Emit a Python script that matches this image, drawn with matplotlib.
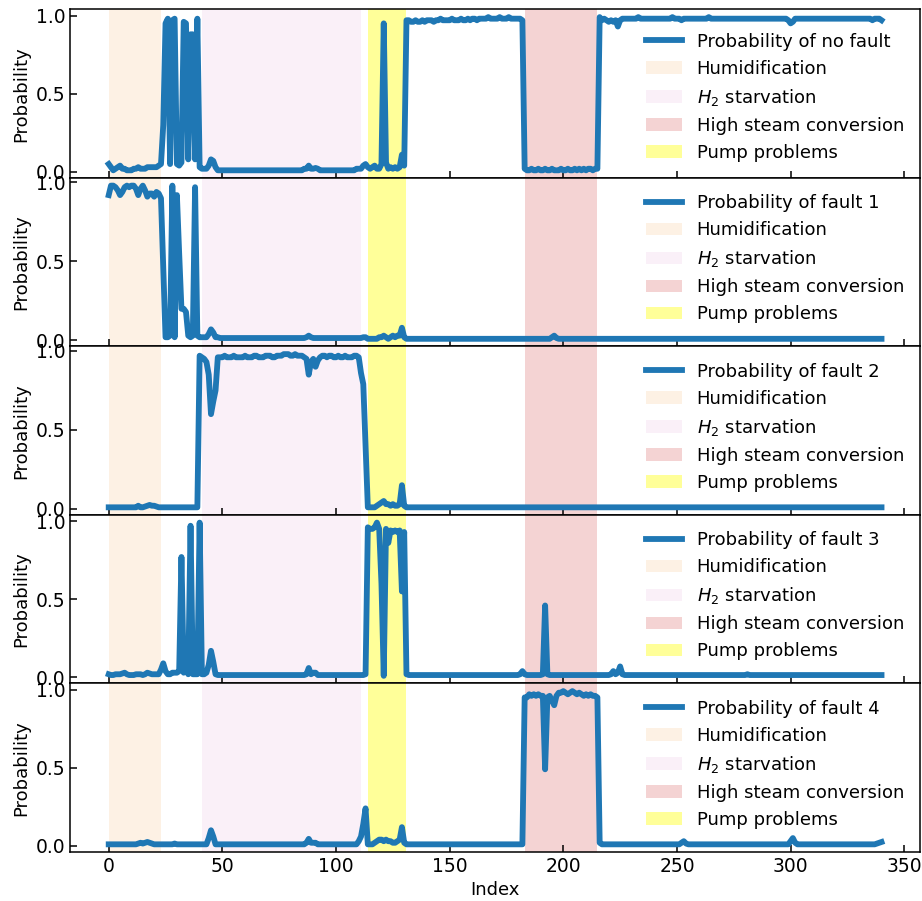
import matplotlib
matplotlib.use("Agg")
import matplotlib.pyplot as plt
import numpy as np

# ---------------- data ----------------
series_labels = ["Probability of no fault", "Probability of fault 1",
                 "Probability of fault 2", "Probability of fault 3",
                 "Probability of fault 4"]

p_no_fault = [
    0.05, 0.03, 0.01, 0.02, 0.03, 0.04, 0.02, 0.02, 0.01, 0.01,
    0.01, 0.02, 0.02, 0.03, 0.02, 0.02, 0.02, 0.03, 0.03, 0.03,
    0.03, 0.03, 0.04, 0.05, 0.30, 0.95, 0.98, 0.05, 0.97, 0.98,
    0.05, 0.04, 0.06, 0.96, 0.95, 0.08, 0.88, 0.88, 0.08, 0.98,
    0.03, 0.02, 0.02, 0.02, 0.04, 0.08, 0.07, 0.03, 0.01, 0.01,
    0.01, 0.01, 0.01, 0.01, 0.01, 0.01, 0.01, 0.01, 0.01, 0.01,
    0.01, 0.01, 0.01, 0.01, 0.01, 0.01, 0.01, 0.01, 0.01, 0.01,
    0.01, 0.01, 0.01, 0.01, 0.01, 0.01, 0.01, 0.01, 0.01, 0.01,
    0.01, 0.01, 0.01, 0.01, 0.01, 0.01, 0.02, 0.02, 0.04, 0.02,
    0.02, 0.025, 0.02, 0.01, 0.01, 0.01, 0.01, 0.01, 0.01, 0.01,
    0.01, 0.01, 0.01, 0.01, 0.01, 0.01, 0.01, 0.01, 0.01, 0.02,
    0.02, 0.02, 0.04, 0.05, 0.03, 0.02, 0.03, 0.04, 0.02, 0.02,
    0.05, 0.95, 0.06, 0.02, 0.03, 0.02, 0.03, 0.02, 0.03, 0.11,
    0.04, 0.97, 0.97, 0.96, 0.96, 0.97, 0.96, 0.96, 0.97, 0.96,
    0.97, 0.97, 0.97, 0.96, 0.97, 0.97, 0.98, 0.97, 0.97, 0.97,
    0.97, 0.98, 0.97, 0.97, 0.97, 0.98, 0.97, 0.97, 0.98, 0.97,
    0.98, 0.98, 0.97, 0.98, 0.98, 0.98, 0.98, 0.99, 0.98, 0.98,
    0.98, 0.98, 0.99, 0.98, 0.98, 0.98, 0.99, 0.98, 0.98, 0.98,
    0.98, 0.98, 0.97, 0.02, 0.01, 0.01, 0.02, 0.01, 0.01, 0.02,
    0.01, 0.01, 0.02, 0.01, 0.01, 0.02, 0.01, 0.01, 0.01, 0.02,
    0.01, 0.01, 0.02, 0.01, 0.01, 0.02, 0.01, 0.02, 0.01, 0.02,
    0.01, 0.02, 0.02, 0.01, 0.02, 0.02, 0.99, 0.97, 0.98, 0.97,
    0.96, 0.97, 0.96, 0.97, 0.93, 0.97, 0.98, 0.98, 0.98, 0.98,
    0.98, 0.98, 0.98, 0.99, 0.98, 0.98, 0.98, 0.98, 0.98, 0.98,
    0.98, 0.98, 0.98, 0.98, 0.98, 0.98, 0.98, 0.98, 0.99, 0.98,
    0.98, 0.98, 0.97, 0.98, 0.98, 0.98, 0.98, 0.98, 0.98, 0.98,
    0.98, 0.98, 0.98, 0.98, 0.99, 0.98, 0.98, 0.98, 0.98, 0.98,
    0.98, 0.98, 0.98, 0.98, 0.98, 0.98, 0.98, 0.98, 0.98, 0.98,
    0.98, 0.98, 0.98, 0.98, 0.98, 0.98, 0.98, 0.98, 0.98, 0.98,
    0.98, 0.98, 0.98, 0.98, 0.98, 0.98, 0.98, 0.98, 0.98, 0.97,
    0.95, 0.96, 0.98, 0.98, 0.98, 0.98, 0.98, 0.98, 0.98, 0.98,
    0.98, 0.98, 0.98, 0.98, 0.98, 0.98, 0.98, 0.98, 0.98, 0.98,
    0.98, 0.98, 0.98, 0.98, 0.98, 0.98, 0.98, 0.98, 0.98, 0.98,
    0.98, 0.98, 0.98, 0.98, 0.98, 0.98, 0.97, 0.98, 0.98, 0.98,
    0.97,
]

p_fault1 = [
    0.92, 0.98, 0.98, 0.97, 0.95, 0.92, 0.94, 0.97, 0.98, 0.97,
    0.98, 0.98, 0.96, 0.92, 0.96, 0.98, 0.95, 0.91, 0.93, 0.93,
    0.91, 0.94, 0.93, 0.90, 0.45, 0.02, 0.02, 0.03, 0.98, 0.02,
    0.92, 0.55, 0.20, 0.20, 0.18, 0.03, 0.02, 0.03, 0.97, 0.03,
    0.02, 0.02, 0.02, 0.02, 0.04, 0.07, 0.05, 0.02, 0.02, 0.015,
    0.015, 0.015, 0.015, 0.015, 0.015, 0.015, 0.015, 0.015, 0.015, 0.015,
    0.015, 0.015, 0.015, 0.015, 0.015, 0.015, 0.015, 0.015, 0.015, 0.015,
    0.015, 0.015, 0.015, 0.015, 0.015, 0.015, 0.015, 0.015, 0.015, 0.015,
    0.015, 0.015, 0.015, 0.015, 0.015, 0.015, 0.015, 0.02, 0.03, 0.02,
    0.015, 0.015, 0.015, 0.015, 0.015, 0.015, 0.015, 0.015, 0.015, 0.015,
    0.015, 0.015, 0.015, 0.015, 0.015, 0.015, 0.015, 0.015, 0.015, 0.015,
    0.015, 0.015, 0.02, 0.02, 0.01, 0.01, 0.01, 0.01, 0.01, 0.02,
    0.02, 0.03, 0.02, 0.01, 0.02, 0.03, 0.02, 0.03, 0.03, 0.08,
    0.02, 0.01, 0.01, 0.01, 0.01, 0.01, 0.01, 0.01, 0.01, 0.01,
    0.01, 0.01, 0.01, 0.01, 0.01, 0.01, 0.01, 0.01, 0.01, 0.01,
    0.01, 0.01, 0.01, 0.01, 0.01, 0.01, 0.01, 0.01, 0.01, 0.01,
    0.01, 0.01, 0.01, 0.01, 0.01, 0.01, 0.01, 0.01, 0.01, 0.01,
    0.01, 0.01, 0.01, 0.01, 0.01, 0.01, 0.01, 0.01, 0.01, 0.01,
    0.01, 0.01, 0.01, 0.01, 0.01, 0.01, 0.01, 0.01, 0.01, 0.01,
    0.01, 0.01, 0.01, 0.01, 0.01, 0.02, 0.03, 0.015, 0.01, 0.01,
    0.01, 0.01, 0.01, 0.01, 0.01, 0.01, 0.01, 0.01, 0.01, 0.01,
    0.01, 0.01, 0.01, 0.01, 0.01, 0.01, 0.01, 0.01, 0.01, 0.01,
    0.01, 0.01, 0.01, 0.01, 0.01, 0.01, 0.01, 0.01, 0.01, 0.01,
    0.01, 0.01, 0.01, 0.01, 0.01, 0.01, 0.01, 0.01, 0.01, 0.01,
    0.01, 0.01, 0.01, 0.01, 0.01, 0.01, 0.01, 0.01, 0.01, 0.01,
    0.01, 0.01, 0.01, 0.01, 0.01, 0.01, 0.01, 0.01, 0.01, 0.01,
    0.01, 0.01, 0.01, 0.01, 0.01, 0.01, 0.01, 0.01, 0.01, 0.01,
    0.01, 0.01, 0.01, 0.01, 0.01, 0.01, 0.01, 0.01, 0.01, 0.01,
    0.01, 0.01, 0.01, 0.01, 0.01, 0.01, 0.01, 0.01, 0.01, 0.01,
    0.01, 0.01, 0.01, 0.01, 0.01, 0.01, 0.01, 0.01, 0.01, 0.01,
    0.01, 0.01, 0.01, 0.01, 0.01, 0.01, 0.01, 0.01, 0.01, 0.01,
    0.01, 0.01, 0.01, 0.01, 0.01, 0.01, 0.01, 0.01, 0.01, 0.01,
    0.01, 0.01, 0.01, 0.01, 0.01, 0.01, 0.01, 0.01, 0.01, 0.01,
    0.01, 0.01, 0.01, 0.01, 0.01, 0.01, 0.01, 0.01, 0.01, 0.01,
    0.01,
]

p_fault2 = [
    0.01, 0.01, 0.01, 0.01, 0.01, 0.01, 0.01, 0.01, 0.01, 0.01,
    0.01, 0.01, 0.01, 0.02, 0.01, 0.01, 0.015, 0.02, 0.025, 0.02,
    0.02, 0.015, 0.01, 0.01, 0.01, 0.01, 0.01, 0.01, 0.01, 0.01,
    0.01, 0.01, 0.01, 0.01, 0.01, 0.01, 0.01, 0.01, 0.01, 0.01,
    0.97, 0.96, 0.95, 0.93, 0.85, 0.60, 0.68, 0.75, 0.96, 0.96,
    0.96, 0.97, 0.96, 0.96, 0.96, 0.97, 0.96, 0.96, 0.96, 0.96,
    0.97, 0.96, 0.96, 0.96, 0.97, 0.97, 0.96, 0.96, 0.96, 0.97,
    0.97, 0.97, 0.96, 0.96, 0.97, 0.97, 0.97, 0.98, 0.98, 0.98,
    0.97, 0.97, 0.98, 0.97, 0.97, 0.97, 0.96, 0.95, 0.85, 0.93,
    0.95, 0.90, 0.94, 0.96, 0.97, 0.97, 0.96, 0.97, 0.97, 0.96,
    0.96, 0.97, 0.96, 0.96, 0.97, 0.96, 0.96, 0.96, 0.97, 0.97,
    0.96, 0.86, 0.79, 0.40, 0.01, 0.01, 0.01, 0.01, 0.02, 0.03,
    0.04, 0.05, 0.03, 0.03, 0.02, 0.03, 0.02, 0.02, 0.03, 0.15,
    0.02, 0.01, 0.01, 0.01, 0.01, 0.01, 0.01, 0.01, 0.01, 0.01,
    0.01, 0.01, 0.01, 0.01, 0.01, 0.01, 0.01, 0.01, 0.01, 0.01,
    0.01, 0.01, 0.01, 0.01, 0.01, 0.01, 0.01, 0.01, 0.01, 0.01,
    0.01, 0.01, 0.01, 0.01, 0.01, 0.01, 0.01, 0.01, 0.01, 0.01,
    0.01, 0.01, 0.01, 0.01, 0.01, 0.01, 0.01, 0.01, 0.01, 0.01,
    0.01, 0.01, 0.01, 0.01, 0.01, 0.01, 0.01, 0.01, 0.01, 0.01,
    0.01, 0.01, 0.01, 0.01, 0.01, 0.01, 0.01, 0.01, 0.01, 0.01,
    0.01, 0.01, 0.01, 0.01, 0.01, 0.01, 0.01, 0.01, 0.01, 0.01,
    0.01, 0.01, 0.01, 0.01, 0.01, 0.01, 0.01, 0.01, 0.01, 0.01,
    0.01, 0.01, 0.01, 0.01, 0.01, 0.01, 0.01, 0.01, 0.01, 0.01,
    0.01, 0.01, 0.01, 0.01, 0.01, 0.01, 0.01, 0.01, 0.01, 0.01,
    0.01, 0.01, 0.01, 0.01, 0.01, 0.01, 0.01, 0.01, 0.01, 0.01,
    0.01, 0.01, 0.01, 0.01, 0.01, 0.01, 0.01, 0.01, 0.01, 0.01,
    0.01, 0.01, 0.01, 0.01, 0.01, 0.01, 0.01, 0.01, 0.01, 0.01,
    0.01, 0.01, 0.01, 0.01, 0.01, 0.01, 0.01, 0.01, 0.01, 0.01,
    0.01, 0.01, 0.01, 0.01, 0.01, 0.01, 0.01, 0.01, 0.01, 0.01,
    0.01, 0.01, 0.01, 0.01, 0.01, 0.01, 0.01, 0.01, 0.01, 0.01,
    0.01, 0.01, 0.01, 0.01, 0.01, 0.01, 0.01, 0.01, 0.01, 0.01,
    0.01, 0.01, 0.01, 0.01, 0.01, 0.01, 0.01, 0.01, 0.01, 0.01,
    0.01, 0.01, 0.01, 0.01, 0.01, 0.01, 0.01, 0.01, 0.01, 0.01,
    0.01, 0.01, 0.01, 0.01, 0.01, 0.01, 0.01, 0.01, 0.01, 0.01,
    0.01,
]

p_fault3 = [
    0.02, 0.015, 0.015, 0.02, 0.02, 0.02, 0.025, 0.03, 0.02, 0.015,
    0.015, 0.015, 0.02, 0.02, 0.02, 0.015, 0.02, 0.03, 0.025, 0.02,
    0.02, 0.02, 0.02, 0.05, 0.09, 0.04, 0.02, 0.02, 0.03, 0.03,
    0.03, 0.04, 0.77, 0.03, 0.06, 0.02, 0.97, 0.02, 0.02, 0.02,
    0.99, 0.02, 0.02, 0.03, 0.08, 0.17, 0.10, 0.02, 0.015, 0.015,
    0.015, 0.015, 0.015, 0.015, 0.015, 0.015, 0.015, 0.015, 0.015, 0.015,
    0.015, 0.015, 0.015, 0.015, 0.015, 0.015, 0.015, 0.015, 0.015, 0.015,
    0.015, 0.015, 0.015, 0.015, 0.015, 0.015, 0.015, 0.015, 0.015, 0.015,
    0.015, 0.015, 0.015, 0.015, 0.015, 0.015, 0.015, 0.02, 0.06, 0.02,
    0.03, 0.03, 0.015, 0.015, 0.015, 0.015, 0.015, 0.015, 0.015, 0.015,
    0.015, 0.015, 0.015, 0.015, 0.015, 0.015, 0.015, 0.015, 0.015, 0.015,
    0.015, 0.015, 0.015, 0.02, 0.96, 0.95, 0.95, 0.96, 0.99, 0.95,
    0.60, 0.01, 0.95, 0.86, 0.94, 0.93, 0.94, 0.93, 0.94, 0.55,
    0.93, 0.02, 0.015, 0.015, 0.015, 0.015, 0.015, 0.015, 0.015, 0.015,
    0.015, 0.015, 0.015, 0.015, 0.015, 0.015, 0.015, 0.015, 0.015, 0.015,
    0.015, 0.015, 0.015, 0.015, 0.015, 0.015, 0.015, 0.015, 0.015, 0.015,
    0.015, 0.015, 0.015, 0.015, 0.015, 0.015, 0.015, 0.015, 0.015, 0.015,
    0.015, 0.015, 0.015, 0.015, 0.015, 0.015, 0.015, 0.015, 0.015, 0.015,
    0.015, 0.02, 0.04, 0.02, 0.015, 0.015, 0.015, 0.015, 0.015, 0.015,
    0.015, 0.02, 0.46, 0.02, 0.015, 0.015, 0.015, 0.015, 0.015, 0.015,
    0.015, 0.015, 0.015, 0.015, 0.015, 0.015, 0.015, 0.015, 0.015, 0.015,
    0.015, 0.015, 0.015, 0.015, 0.015, 0.015, 0.015, 0.015, 0.015, 0.015,
    0.015, 0.02, 0.04, 0.02, 0.03, 0.07, 0.02, 0.015, 0.015, 0.015,
    0.015, 0.015, 0.015, 0.015, 0.015, 0.015, 0.015, 0.015, 0.015, 0.015,
    0.015, 0.015, 0.015, 0.015, 0.015, 0.015, 0.015, 0.015, 0.015, 0.015,
    0.015, 0.015, 0.015, 0.015, 0.015, 0.015, 0.015, 0.015, 0.015, 0.015,
    0.015, 0.015, 0.015, 0.015, 0.015, 0.015, 0.015, 0.015, 0.015, 0.015,
    0.015, 0.015, 0.015, 0.015, 0.015, 0.015, 0.015, 0.015, 0.015, 0.015,
    0.015, 0.02, 0.015, 0.015, 0.015, 0.015, 0.015, 0.015, 0.015, 0.015,
    0.015, 0.015, 0.015, 0.015, 0.015, 0.015, 0.015, 0.015, 0.015, 0.015,
    0.015, 0.015, 0.015, 0.015, 0.015, 0.015, 0.015, 0.015, 0.015, 0.015,
    0.015, 0.015, 0.015, 0.015, 0.015, 0.015, 0.015, 0.015, 0.015, 0.015,
    0.015, 0.015, 0.015, 0.015, 0.015, 0.015, 0.015, 0.015, 0.015, 0.015,
    0.015, 0.015, 0.015, 0.015, 0.015, 0.015, 0.015, 0.015, 0.015, 0.015,
    0.015,
]

p_fault4 = [
    0.01, 0.01, 0.01, 0.01, 0.01, 0.01, 0.01, 0.01, 0.01, 0.01,
    0.01, 0.01, 0.01, 0.015, 0.02, 0.015, 0.02, 0.025, 0.02, 0.015,
    0.01, 0.01, 0.01, 0.01, 0.01, 0.01, 0.01, 0.01, 0.01, 0.015,
    0.01, 0.01, 0.01, 0.01, 0.01, 0.01, 0.01, 0.01, 0.01, 0.01,
    0.01, 0.01, 0.01, 0.01, 0.05, 0.10, 0.06, 0.01, 0.01, 0.01,
    0.01, 0.01, 0.01, 0.01, 0.01, 0.01, 0.01, 0.01, 0.01, 0.01,
    0.01, 0.01, 0.01, 0.01, 0.01, 0.01, 0.01, 0.01, 0.01, 0.01,
    0.01, 0.01, 0.01, 0.01, 0.01, 0.01, 0.01, 0.01, 0.01, 0.01,
    0.01, 0.01, 0.01, 0.01, 0.01, 0.01, 0.01, 0.02, 0.045, 0.02,
    0.02, 0.02, 0.01, 0.01, 0.01, 0.01, 0.01, 0.01, 0.01, 0.01,
    0.01, 0.01, 0.01, 0.01, 0.01, 0.01, 0.01, 0.01, 0.01, 0.01,
    0.03, 0.06, 0.14, 0.24, 0.01, 0.01, 0.01, 0.02, 0.03, 0.04,
    0.04, 0.03, 0.04, 0.03, 0.03, 0.02, 0.02, 0.03, 0.04, 0.12,
    0.02, 0.01, 0.01, 0.01, 0.01, 0.01, 0.01, 0.01, 0.01, 0.01,
    0.01, 0.01, 0.01, 0.01, 0.01, 0.01, 0.01, 0.01, 0.01, 0.01,
    0.01, 0.01, 0.01, 0.01, 0.01, 0.01, 0.01, 0.01, 0.01, 0.01,
    0.01, 0.01, 0.01, 0.01, 0.01, 0.01, 0.01, 0.01, 0.01, 0.01,
    0.01, 0.01, 0.01, 0.01, 0.01, 0.01, 0.01, 0.01, 0.01, 0.01,
    0.01, 0.01, 0.01, 0.95, 0.95, 0.97, 0.96, 0.97, 0.96, 0.97,
    0.96, 0.96, 0.49, 0.95, 0.96, 0.93, 0.90, 0.96, 0.98, 0.98,
    0.99, 0.98, 0.97, 0.98, 0.99, 0.98, 0.97, 0.98, 0.97, 0.96,
    0.97, 0.96, 0.97, 0.96, 0.96, 0.95, 0.02, 0.01, 0.01, 0.01,
    0.01, 0.01, 0.01, 0.01, 0.01, 0.01, 0.01, 0.01, 0.01, 0.01,
    0.01, 0.01, 0.01, 0.01, 0.01, 0.01, 0.01, 0.01, 0.01, 0.01,
    0.01, 0.01, 0.01, 0.01, 0.01, 0.01, 0.01, 0.01, 0.01, 0.01,
    0.01, 0.01, 0.02, 0.03, 0.015, 0.01, 0.01, 0.01, 0.01, 0.01,
    0.01, 0.01, 0.01, 0.01, 0.01, 0.01, 0.01, 0.01, 0.01, 0.01,
    0.01, 0.01, 0.01, 0.01, 0.01, 0.01, 0.01, 0.01, 0.01, 0.01,
    0.01, 0.01, 0.01, 0.01, 0.01, 0.01, 0.01, 0.01, 0.01, 0.01,
    0.01, 0.01, 0.01, 0.01, 0.01, 0.01, 0.01, 0.01, 0.01, 0.01,
    0.03, 0.05, 0.02, 0.01, 0.01, 0.01, 0.01, 0.01, 0.01, 0.01,
    0.01, 0.01, 0.01, 0.01, 0.01, 0.01, 0.01, 0.01, 0.01, 0.01,
    0.01, 0.01, 0.01, 0.01, 0.01, 0.01, 0.01, 0.01, 0.01, 0.01,
    0.01, 0.01, 0.01, 0.01, 0.01, 0.01, 0.01, 0.01, 0.015, 0.02,
    0.025,
]

# fault regions (index ranges)
region_labels = ["Humidification", r"$H_2$ starvation",
                 "High steam conversion", "Pump problems"]
region_starts = [0, 41, 183, 114]
region_ends = [23, 111, 215, 131]
region_colors = ["#fdf1e4", "#faf0f8", "#f4d3d3", "#ffff99"]

all_series = [p_no_fault, p_fault1, p_fault2, p_fault3, p_fault4]
legend_locs = ["lower right", "upper right", "upper right", "upper right",
               "upper right"]

# ---------------- plot ----------------
FS = 13
plt.rcParams.update({
    "font.size": FS,
    "xtick.direction": "in",
    "ytick.direction": "in",
    "xtick.major.size": 4.8,
    "ytick.major.size": 4.8,
    "xtick.major.width": 1.1,
    "ytick.major.width": 1.1,
    "axes.linewidth": 1.1,
    "xtick.labelsize": 13.5,
    "ytick.labelsize": 13.5,
})

fig, axes = plt.subplots(5, 1, sharex=True, figsize=(9.22, 9.01), dpi=100)
fig.subplots_adjust(left=0.076, right=0.998, top=0.9895, bottom=0.0544,
                    hspace=0)

for ax, vals, lab, loc in zip(axes, all_series, series_labels, legend_locs):
    x = np.arange(len(vals))
    ax.plot(x, vals, color="#1f77b4", lw=4.2, label=lab, zorder=3)
    for s, e, c, rl in zip(region_starts, region_ends, region_colors,
                           region_labels):
        ax.axvspan(s, e, color=c, lw=0, label=rl, zorder=1)
    ax.set_ylabel("Probability", fontsize=FS)
    ax.set_yticks([0.0, 0.5, 1.0])
    ax.legend(loc=loc, frameon=False, fontsize=FS)

axes[-1].set_xlabel("Index", fontsize=FS)
axes[-1].set_xticks([0, 50, 100, 150, 200, 250, 300, 350])

fig.savefig("out.png", dpi=100)
